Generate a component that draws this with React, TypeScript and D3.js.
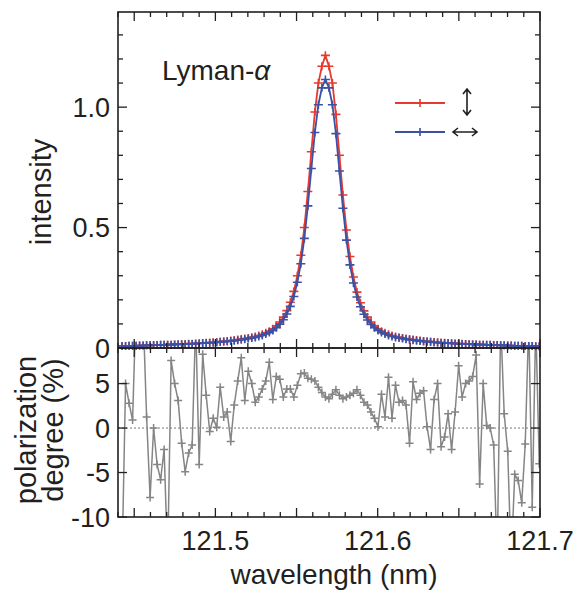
import React from "react";
import * as d3 from "d3";

const wavelengthStart = 121.4425;
const wavelengthStep = 0.00216;

const redIntensity = [
  0.008, 0.008, 0.009, 0.009, 0.009, 0.010, 0.010, 0.011, 0.011, 0.012,
  0.012, 0.013, 0.013, 0.014, 0.014, 0.015, 0.016, 0.016, 0.017, 0.018,
  0.018, 0.019, 0.020, 0.021, 0.022, 0.023, 0.024, 0.025, 0.027, 0.028,
  0.029, 0.031, 0.033, 0.035, 0.037, 0.039, 0.042, 0.045, 0.048, 0.052,
  0.057, 0.063, 0.070, 0.080, 0.092, 0.108, 0.128, 0.155, 0.19, 0.235,
  0.30, 0.385, 0.50, 0.65, 0.815, 0.98, 1.10, 1.17, 1.215,
  1.17, 1.10, 0.97, 0.80, 0.635, 0.49, 0.38, 0.295, 0.232, 0.188,
  0.154, 0.128, 0.108, 0.092, 0.080, 0.070, 0.063, 0.057, 0.052, 0.048,
  0.045, 0.042, 0.039, 0.037, 0.035, 0.033, 0.031, 0.029, 0.028, 0.027,
  0.025, 0.024, 0.023, 0.022, 0.021, 0.020, 0.019, 0.018, 0.018, 0.017,
  0.016, 0.016, 0.015, 0.014, 0.014, 0.013, 0.013, 0.012, 0.012, 0.011,
  0.011, 0.010, 0.010, 0.009, 0.009, 0.009, 0.008, 0.008, 0.008, 0.007, 0.007,
];

const blueIntensity = [
  0.008, 0.008, 0.009, 0.009, 0.009, 0.010, 0.010, 0.011, 0.011, 0.012,
  0.012, 0.013, 0.013, 0.014, 0.014, 0.015, 0.015, 0.016, 0.016, 0.017,
  0.017, 0.018, 0.019, 0.020, 0.021, 0.021, 0.022, 0.023, 0.025, 0.026,
  0.027, 0.029, 0.030, 0.032, 0.034, 0.036, 0.039, 0.041, 0.044, 0.048,
  0.052, 0.058, 0.064, 0.073, 0.084, 0.099, 0.117, 0.141, 0.173, 0.214,
  0.273, 0.35, 0.455, 0.59, 0.745, 0.895, 1.01, 1.08, 1.115,
  1.08, 1.01, 0.89, 0.735, 0.58, 0.448, 0.345, 0.27, 0.212, 0.171,
  0.14, 0.116, 0.098, 0.084, 0.073, 0.064, 0.058, 0.052, 0.048, 0.044,
  0.041, 0.039, 0.036, 0.034, 0.032, 0.030, 0.029, 0.027, 0.026, 0.025,
  0.023, 0.022, 0.021, 0.021, 0.020, 0.019, 0.018, 0.017, 0.017, 0.016,
  0.016, 0.015, 0.015, 0.014, 0.014, 0.013, 0.013, 0.012, 0.012, 0.011,
  0.011, 0.010, 0.010, 0.009, 0.009, 0.009, 0.008, 0.008, 0.008, 0.007, 0.007,
];

const polarizationDegree = [
  -15, 5.0, 2.8, 0.9, 14, 16, 13, 1.25, -7.8, 0,
  -4.1, -5.8, -2.4, -15, 7.6, 5.0, 3.1, -1.7, -4.9, -2.8,
  -1.9, 12, -4.1, 8.3, 3.7, -0.4, 1.1, 0.1, 4.6, 1.25,
  1.8, -1.5, 2.6, 5.3, 7.9, 3.1, 6.4, 5.0, 2.9, 3.5,
  4.4, 5.3, 7.4, 3.2, 5.8, 5.5, 3.5, 4.4, 4.4, 3.5,
  4.8, 6.1, 6.2, 5.6, 5.5, 5.3, 4.6, 4.0, 3.5, 3.3,
  3.8, 4.3, 3.7, 3.3, 3.5, 3.7, 3.9, 4.3, 3.7, 2.9,
  2.6, 1.8, 1.1, 0.15, 3.8, 1.25, 5.7, 1.1, 4.8, 2.9,
  3.1, 2.6, -1.7, 5.2, 3.2, 3.9, 4.2, 0.15, -2.4, 3.2,
  5.0, -2.1, -1.0, 1.6, -2.4, 1.8, 7.0, 3.5, 5.0, 5.3,
  5.8, 8.2, -6.3, 5.0, 0.3, 0, -1.9, -15, 12, 1.6,
  -2.6, -15, -5.2, -5.9, -8.4, -1.8, 12, -8.9, 12, -4,
];

const xTickLabels = [121.5, 121.6, 121.7];
const intensityTickLabels = [0, 0.5, 1.0];
const polarizationTickLabels = [-10, -5, 0, 5];

const RED = "#e8392f";
const BLUE = "#3a51a6";
const GRAY = "#858585";
const INK = "#231f20";
const FONT = "'Liberation Sans', Arial, Helvetica, sans-serif";

export default function App() {
  const left = 118, right = 540, topT = 12, midY = 348, botB = 517;
  const x = d3.scaleLinear().domain([121.44, 121.70]).range([left, right]);
  const yI = d3.scaleLinear().domain([0, 1.395]).range([midY, topT]);
  const yP = d3.scaleLinear().domain([-10, 9]).range([botB, midY]);

  const wl = redIntensity.map((_, i) => wavelengthStart + i * wavelengthStep);
  const redPts: [number, number][] = redIntensity.map((v, i) => [wl[i], v]);
  const bluePts: [number, number][] = blueIntensity.map((v, i) => [wl[i], v]);
  const polPts: [number, number][] = polarizationDegree.map((v, i) => [wl[i], v]);

  const lineI = d3.line<[number, number]>().x(d => x(d[0])).y(d => yI(d[1]));
  const lineP = d3.line<[number, number]>().x(d => x(d[0])).y(d => yP(d[1]));

  const plus = (cx: number, cy: number, color: string, key: string, hw = 4.5, hh = 4, sw = 1.6) => (
    <path key={key} d={`M${cx - hw},${cy}H${cx + hw}M${cx},${cy - hh}V${cy + hh}`} stroke={color} strokeWidth={sw} fill="none" />
  );

  const xMinor = d3.range(0, 27).map(i => +(121.44 + i * 0.01).toFixed(2));
  const isMajorX = (v: number) => Math.round(v * 100) % 5 === 0;
  const iMinor = d3.range(0, 14).map(i => +(i * 0.1).toFixed(1));
  const isMajorI = (v: number) => Math.round(v * 10) % 5 === 0;

  const ticks: JSX.Element[] = [];
  xMinor.forEach((v, i) => {
    const L = isMajorX(v) ? 9 : 5;
    const px = x(v);
    ticks.push(<line key={`xt1${i}`} x1={px} x2={px} y1={topT} y2={topT + L} />);
    ticks.push(<line key={`xt2${i}`} x1={px} x2={px} y1={midY} y2={midY - L} />);
    ticks.push(<line key={`xt3${i}`} x1={px} x2={px} y1={midY} y2={midY + L} />);
    ticks.push(<line key={`xt4${i}`} x1={px} x2={px} y1={botB} y2={botB - L} />);
  });
  iMinor.forEach((v, i) => {
    const L = isMajorI(v) ? 9 : 5;
    const py = yI(v);
    ticks.push(<line key={`yi1${i}`} x1={left} x2={left + L} y1={py} y2={py} />);
    ticks.push(<line key={`yi2${i}`} x1={right} x2={right - L} y1={py} y2={py} />);
  });
  polarizationTickLabels.forEach((v, i) => {
    const py = yP(v);
    ticks.push(<line key={`yp1${i}`} x1={left} x2={left + 9} y1={py} y2={py} />);
    ticks.push(<line key={`yp2${i}`} x1={right} x2={right - 9} y1={py} y2={py} />);
  });

  return (
    <svg width={585} height={591} style={{ position: "absolute", left: 0, top: 0, background: "#fff" }}
      fontFamily={FONT}>
      <defs>
        <clipPath id="clipTop"><rect x={left} y={topT} width={right - left} height={midY - topT + 5} /></clipPath>
        <clipPath id="clipBot"><rect x={left} y={midY} width={right - left} height={botB - midY} /></clipPath>
      </defs>

      <line x1={left} x2={right} y1={yP(0)} y2={yP(0)} stroke="#777" strokeWidth={1} strokeDasharray="2,2" />
      <g clipPath="url(#clipBot)">
        <path d={lineP(polPts) || ""} fill="none" stroke={GRAY} strokeWidth={1.5} />
        {polPts.map((p, i) => plus(x(p[0]), yP(p[1]), GRAY, `pp${i}`, 4, 4, 1.5))}
      </g>

      <g clipPath="url(#clipTop)">
        <path d={lineI(redPts) || ""} fill="none" stroke={RED} strokeWidth={1.8} />
        {redPts.map((p, i) => plus(x(p[0]), yI(p[1]), RED, `rp${i}`))}
        <path d={lineI(bluePts) || ""} fill="none" stroke={BLUE} strokeWidth={1.8} />
        {bluePts.map((p, i) => plus(x(p[0]), yI(p[1]), BLUE, `bp${i}`))}
      </g>

      <g stroke={INK} strokeWidth={1.3}>{ticks}</g>
      <rect x={left} y={topT} width={right - left} height={midY - topT} fill="none" stroke={INK} strokeWidth={1.6} />
      <rect x={left} y={midY} width={right - left} height={botB - midY} fill="none" stroke={INK} strokeWidth={1.6} />

      <g fontSize={27} fill={INK}>
        {intensityTickLabels.map(v => (
          <text key={`il${v}`} x={110} y={yI(v)} dy="0.36em" textAnchor="end">{v === 0 ? "0" : v.toFixed(1)}</text>
        ))}
        {polarizationTickLabels.map(v => (
          <text key={`pl${v}`} x={110} y={yP(v)} dy="0.36em" textAnchor="end">{v < 0 ? `-${Math.abs(v)}` : `${v}`}</text>
        ))}
        {xTickLabels.map(v => (
          <text key={`xl${v}`} x={x(v)} y={550} textAnchor="middle">{v.toFixed(1)}</text>
        ))}
        <text x={334} y={584} textAnchor="middle" fontSize={28}>wavelength (nm)</text>
        <text transform="translate(51,192) rotate(-90)" textAnchor="middle" fontSize={29}>intensity</text>
        <text transform="translate(36,430) rotate(-90)" textAnchor="middle" fontSize={29}>polarization</text>
        <text transform="translate(63,430) rotate(-90)" textAnchor="middle" fontSize={29}>degree (%)</text>
        <text x={162} y={80} fontSize={28}>Lyman-<tspan fontStyle="italic">α</tspan></text>
      </g>

      <line x1={395} x2={445} y1={103} y2={103} stroke={RED} strokeWidth={1.8} />
      {plus(420, 103, RED, "lr")}
      <line x1={395} x2={445} y1={132} y2={132} stroke={BLUE} strokeWidth={1.8} />
      {plus(420, 132, BLUE, "lb")}
      <g stroke={INK} strokeWidth={1.6} fill="none">
        <path d="M467,89V115M463,94L467,89L471,94M463,110L467,115L471,110" />
        <path d="M453,132H477M458,128L453,132L458,136M472,128L477,132L472,136" />
      </g>
    </svg>
  );
}
